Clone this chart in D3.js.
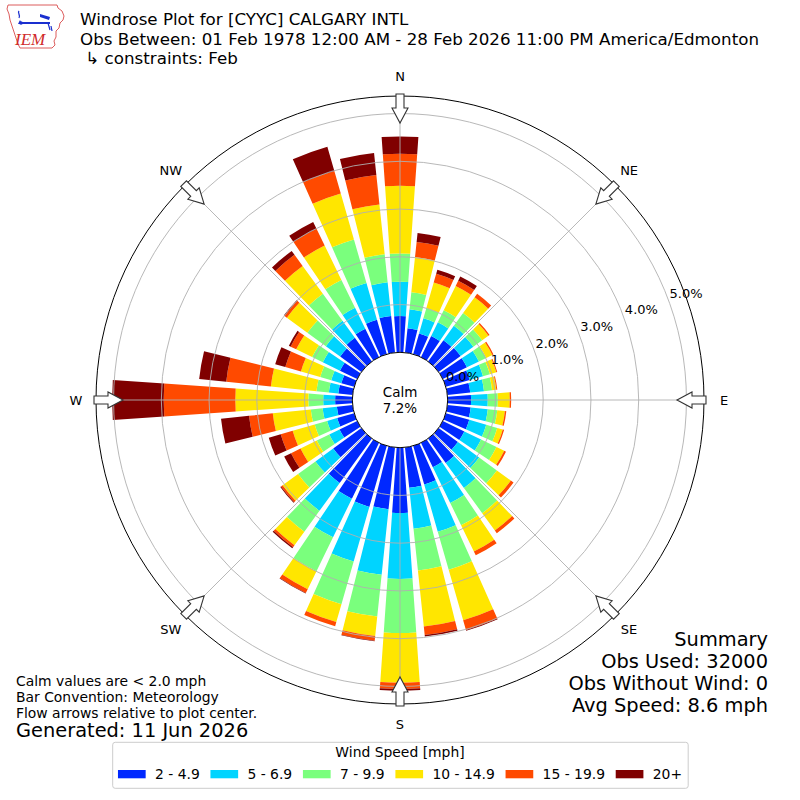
<!DOCTYPE html>
<html><head><meta charset="utf-8">
<script src="https://cdn.jsdelivr.net/npm/d3@7"></script>
<style>
body{margin:0;background:#fff}
svg{display:block}
text{font-family:"DejaVu Sans",sans-serif;fill:#000}
</style>
</head><body>
<svg id="chart" width="800" height="800"></svg>
<script>
// ---------------- data ----------------
const directions = [0,10,20,30,40,50,60,70,80,90,100,110,120,130,140,150,160,170,180,190,200,210,220,230,240,250,260,270,280,290,300,310,320,330,340,350];
const speedBins = ["2 - 4.9","5 - 6.9","7 - 9.9","10 - 14.9","15 - 19.9","20+"];
const binColors = ["#0028ff","#00d4ff","#7aff7d","#ffe600","#ff4a00","#800000"];
// percent of observations per direction for each speed bin
const pct_2_5   = [0.76,0.51,0.45,0.49,0.55,0.57,0.56,0.52,0.48,0.49,0.49,0.51,0.50,0.50,0.63,0.57,0.84,0.85,1.37,1.30,1.33,1.30,1.15,0.73,0.41,0.37,0.33,0.36,0.30,0.28,0.40,0.55,0.61,0.66,0.75,0.77];
const pct_5_7   = [0.72,0.40,0.33,0.32,0.37,0.33,0.28,0.29,0.29,0.35,0.36,0.37,0.39,0.55,0.65,0.83,1.03,0.86,1.38,1.38,1.19,0.90,0.72,0.46,0.24,0.22,0.30,0.25,0.20,0.22,0.40,0.37,0.44,0.49,0.80,0.71];
const pct_7_10  = [0.59,0.36,0.22,0.28,0.33,0.23,0.17,0.15,0.17,0.21,0.20,0.24,0.36,0.46,0.65,0.52,0.83,0.88,1.13,0.88,0.93,0.79,0.54,0.45,0.29,0.27,0.25,0.31,0.26,0.24,0.25,0.48,0.70,0.65,0.95,0.59];
const pct_10_15 = [1.42,0.74,0.56,0.57,0.41,0.16,0.14,0.14,0.09,0.25,0.16,0.12,0.18,0.36,0.45,0.61,1.10,1.18,1.04,0.41,0.39,0.42,0.35,0.40,0.38,0.48,0.80,1.53,0.96,0.42,0.37,0.53,0.72,0.80,1.00,1.05];
const pct_15_20 = [0.67,0.32,0.19,0.12,0.09,0.03,0.03,0.02,0.02,0.03,0.03,0.03,0.04,0.07,0.07,0.09,0.21,0.18,0.13,0.10,0.09,0.09,0.05,0.04,0.22,0.26,0.50,1.50,0.94,0.34,0.13,0.06,0.29,0.39,0.49,0.62];
const pct_20p   = [0.36,0.19,0.09,0.10,0.00,0.00,0.00,0.00,0.00,0.00,0.00,0.00,0.00,0.00,0.00,0.00,0.02,0.03,0.04,0.01,0.00,0.01,0.03,0.02,0.16,0.26,0.59,1.08,0.57,0.22,0.04,0.02,0.10,0.16,0.53,0.46];
const rTicks = [0,1,2,3,4,5];
const rTickLabels = ["0.0%","1.0%","2.0%","3.0%","4.0%","5.0%"];
const compassLabels = ["N","NE","E","SE","S","SW","W","NW"];
const compassAngles = [0,45,90,135,180,225,270,315];
const calmPct = "7.2%";
const titleLines = ["Windrose Plot for [CYYC] CALGARY INTL","Obs Between: 01 Feb 1978 12:00 AM - 28 Feb 2026 11:00 PM America/Edmonton"," \u21b3 constraints: Feb"];
const noteLines = ["Calm values are < 2.0 mph","Bar Convention: Meteorology","Flow arrows relative to plot center."];
const generated = "Generated: 11 Jun 2026";
const summaryLines = ["Summary","Obs Used: 32000","Obs Without Wind: 0","Avg Speed: 8.6 mph"];
const legendTitle = "Wind Speed [mph]";

// ---------------- layout ----------------
const svg = d3.select("#chart");
const cx = 400, cy = 400, Router = 304;
const r = d3.scaleLinear().domain([0,5]).range([47.7,286.45]);
const rad = d => d*Math.PI/180;
const pt = (a, rr) => [cx + rr*Math.sin(rad(a)), cy - rr*Math.cos(rad(a))];

const series = [pct_2_5,pct_5_7,pct_7_10,pct_10_15,pct_15_20,pct_20p];
const rows = directions.map((d,i)=>{ const o={dir:d}; series.forEach((s,k)=>o["b"+k]=s[i]); return o; });
const stacked = d3.stack().keys(series.map((s,k)=>"b"+k))(rows);

const g = svg.append("g").attr("transform",`translate(${cx},${cy})`);
const arc = d3.arc();
const halfW = 4; // degrees (opening 0.8 of 10 deg sector)

stacked.forEach((layer,k)=>{
  g.append("g").selectAll("path").data(layer).join("path")
    .attr("d", d => (d[1]-d[0] <= 0) ? null : arc({
      innerRadius: r(d[0]), outerRadius: r(d[1]),
      startAngle: rad(d.data.dir - halfW), endAngle: rad(d.data.dir + halfW)}))
    .attr("fill", binColors[k]);
});

// grid circles
const grid = g.append("g").attr("fill","none").attr("stroke","#b0b0b0").attr("stroke-width",0.9);
grid.selectAll("circle").data(rTicks.slice(1)).join("circle").attr("r", d=>r(d));
grid.selectAll("line").data(compassAngles).join("line")
  .attr("x1", a=>r(0)*Math.sin(rad(a))).attr("y1", a=>-r(0)*Math.cos(rad(a)))
  .attr("x2", a=>Router*Math.sin(rad(a))).attr("y2", a=>-Router*Math.cos(rad(a)));

// outer boundary
g.append("circle").attr("r",Router).attr("fill","none").attr("stroke","#000").attr("stroke-width",1);

// calm circle
g.append("circle").attr("r",r(0)).attr("fill","#fff").attr("stroke","#000").attr("stroke-width",1);
g.append("text").attr("x",0).attr("y",-3).attr("text-anchor","middle").attr("font-size",13.5).text("Calm");
g.append("text").attr("x",0).attr("y",13).attr("text-anchor","middle").attr("font-size",13.5).text(calmPct);

// radial labels
rTicks.forEach((t,i)=>{
  const [x,y] = pt(69.5, r(t)+19);
  svg.append("text").attr("x",x).attr("y",y).attr("text-anchor","middle")
    .attr("dominant-baseline","central").attr("font-size",13).text(rTickLabels[i]);
});

// flow arrows
const arrowPath = "M-4,-306 L4,-306 L4,-292 L8,-292 L0,-277 L-8,-292 L-4,-292 Z";
g.append("g").selectAll("path").data(compassAngles).join("path")
  .attr("d",arrowPath).attr("transform",a=>`rotate(${a})`)
  .attr("fill","#fff").attr("stroke","#333").attr("stroke-width",1.1);

// compass labels
compassLabels.forEach((lab,i)=>{
  const [x,y] = pt(compassAngles[i], 324);
  svg.append("text").attr("x",x).attr("y",y).attr("text-anchor","middle")
    .attr("dominant-baseline","central").attr("font-size",13).text(lab);
});

// titles
const tY = [25.2,44.8,64.4];
titleLines.forEach((t,i)=>{
  svg.append("text").attr("x",80).attr("y",tY[i]).attr("font-size",16.7)
    .attr("xml:space","preserve").style("white-space","pre").text(t);
});

// logo
const logo = svg.append("g");
logo.append("path")
  .attr("d","M8,5 L57,5 L58,8 L62,11 L64,16 L63,20 L60,23 L59,28 L56,31 L56,37 L54,41 L55,45 L52,48 L20,48 L18,44 L16,38 L14,32 L12,26 L10,20 L9,14 L7,9 Z")
  .attr("fill","#fff").attr("stroke","#d84a4a").attr("stroke-width",0.9);
logo.append("line").attr("x1",22).attr("y1",23).attr("x2",50).attr("y2",23).attr("stroke","#1a2fcf").attr("stroke-width",2);
logo.append("circle").attr("cx",21).attr("cy",23).attr("r",1.8).attr("fill","#1a2fcf");
logo.append("path").attr("d","M18,24 L20,20 L22,24 Z").attr("fill","#1a2fcf");
logo.append("path").attr("d","M19,11 C17,13 21,15 19,18").attr("fill","none").attr("stroke","#1a2fcf").attr("stroke-width",1.3);
logo.append("path").attr("d","M40,14 L50,17 L49,20 L40,17 Z").attr("fill","#1a2fcf");
logo.append("path").attr("d","M48,23 L50,30 M51,26 L52,31").attr("stroke","#1a2fcf").attr("stroke-width",1.2);
logo.append("text").attr("x",15).attr("y",45).attr("font-size",17)
  .style("font-family","'Liberation Serif',serif").style("font-style","italic").attr("fill","#d02a2a").style("fill","#d02a2a").text("IEM");

// notes bottom-left
const nY = [685.5,701.5,717.5];
noteLines.forEach((t,i)=>svg.append("text").attr("x",16).attr("y",nY[i]).attr("font-size",13.9).text(t));
svg.append("text").attr("x",16).attr("y",737).attr("font-size",19.4).text(generated);

// summary bottom-right
const sY = [646,668,690,712];
summaryLines.forEach((t,i)=>svg.append("text").attr("x",768).attr("y",sY[i]).attr("text-anchor","end").attr("font-size",19.4).text(t));

// legend
const leg = svg.append("g");
leg.append("rect").attr("x",112.7).attr("y",742.3).attr("width",575.5).attr("height",46)
  .attr("rx",2.5).attr("fill","#fff").attr("fill-opacity",0.8).attr("stroke","#cccccc").attr("stroke-width",1);
leg.append("text").attr("x",400).attr("y",757.3).attr("text-anchor","middle").attr("font-size",13.9).text(legendTitle);
const items = leg.append("g");
let xs = 0; const pos = [];
speedBins.forEach((lab,k)=>{
  const t = items.append("text").attr("y",779.3).attr("font-size",13.9).text(lab);
  const w = t.node().getComputedTextLength();
  pos.push({t, x:xs});
  xs += 27.7 + 9.3 + w + (k<speedBins.length-1 ? 10.7 : 0);
});
const x0 = 400 - xs/2;
pos.forEach((p,k)=>{
  items.append("rect").attr("x",x0+p.x).attr("y",770).attr("width",27.7).attr("height",8.3).attr("fill",binColors[k]);
  p.t.attr("x",x0+p.x+37);
});
</script>
</body></html>
